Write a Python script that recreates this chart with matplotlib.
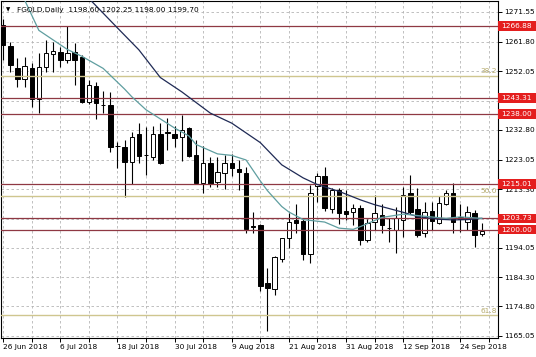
import numpy as np
import matplotlib.pyplot as plt
import matplotlib.transforms as mtransforms
from matplotlib.patches import Rectangle

# daily candles FGOLD, 26 Jun 2018 .. 27 Sep 2018
opens = [1267.30, 1260.50, 1253.05, 1249.45, 1253.05, 1242.85, 1253.40, 1257.75, 1258.50, 1255.80,
         1258.50, 1256.85, 1242.05, 1247.25, 1241.00, 1241.00, 1227.50, 1227.30, 1222.35, 1231.45,
         1224.55, 1224.00, 1231.45, 1231.90, 1231.45, 1230.35, 1233.35, 1224.55, 1215.45, 1222.00,
         1215.50, 1218.55, 1221.80, 1219.85, 1218.55, 1201.05, 1201.55, 1182.60, 1180.40, 1190.25,
         1197.15, 1203.20, 1202.95, 1191.85, 1214.20, 1217.65, 1206.85, 1212.95, 1206.25, 1205.80,
         1206.95, 1196.50, 1202.55, 1204.85, 1200.55, 1199.90, 1203.20, 1212.05, 1206.80, 1198.80,
         1206.25, 1202.30, 1208.45, 1211.95, 1204.05, 1202.60, 1205.40, 1198.60]
highs = [1269.25, 1261.80, 1256.35, 1256.85, 1254.70, 1258.00, 1262.35, 1261.80, 1260.15, 1266.95,
         1261.25, 1257.40, 1249.20, 1248.65, 1245.70, 1245.35, 1228.90, 1229.50, 1232.20, 1235.15,
         1233.85, 1234.10, 1235.15, 1236.60, 1234.10, 1237.70, 1233.85, 1229.50, 1227.50, 1224.00,
         1224.00, 1224.55, 1224.90, 1222.90, 1220.60, 1205.65, 1201.85, 1187.40, 1191.20, 1197.25,
         1205.50, 1208.45, 1203.75, 1214.70, 1218.75, 1220.70, 1213.70, 1213.60, 1213.00, 1208.45,
         1208.10, 1203.50, 1211.40, 1208.45, 1203.85, 1207.45, 1214.05, 1217.95, 1213.70, 1209.20,
         1209.20, 1211.05, 1213.05, 1215.45, 1208.45, 1207.80, 1206.45, 1202.25]
lows = [1255.80, 1251.95, 1247.00, 1246.80, 1240.45, 1238.45, 1251.95, 1251.95, 1253.60, 1254.90,
        1247.55, 1241.55, 1241.30, 1236.30, 1238.45, 1225.65, 1220.20, 1210.65, 1215.00, 1221.80,
        1218.00, 1222.90, 1221.60, 1226.20, 1227.30, 1222.70, 1224.00, 1215.00, 1212.15, 1214.15,
        1214.05, 1213.40, 1217.65, 1212.90, 1198.75, 1198.80, 1179.85, 1166.80, 1178.55, 1189.50,
        1194.00, 1198.80, 1190.15, 1189.15, 1209.20, 1206.15, 1205.50, 1201.70, 1203.20, 1201.55,
        1194.80, 1196.05, 1199.90, 1198.90, 1195.95, 1192.35, 1197.60, 1205.30, 1197.60, 1197.50,
        1199.90, 1201.85, 1208.10, 1199.00, 1199.35, 1199.90, 1194.40, 1198.00]
closes = [1260.70, 1254.15, 1249.45, 1253.80, 1242.85, 1253.60, 1258.20, 1258.85, 1255.80, 1258.20,
          1255.80, 1242.05, 1247.55, 1241.75, 1240.90, 1227.30, 1227.40, 1222.35, 1230.55, 1224.20,
          1224.45, 1231.45, 1221.80, 1231.80, 1230.05, 1232.75, 1224.20, 1215.45, 1221.80, 1215.00,
          1218.80, 1221.80, 1220.20, 1218.85, 1200.15, 1200.95, 1181.35, 1180.75, 1191.00, 1197.15,
          1202.60, 1202.30, 1191.85, 1212.05, 1217.55, 1207.05, 1213.05, 1205.60, 1205.15, 1206.95,
          1196.60, 1202.30, 1205.50, 1201.55, 1200.40, 1203.70, 1211.40, 1205.90, 1198.25, 1205.90,
          1202.95, 1208.85, 1212.15, 1202.60, 1203.35, 1205.70, 1198.40, 1199.70]

# moving averages (bar index, price)
ma_slow_bar = [12, 16, 19, 22, 25, 27, 29, 32, 36, 39, 42, 44, 47, 50, 52, 56, 58, 61, 63, 65, 67]
ma_slow_val = [1276.0, 1266.3, 1259.1, 1250.0, 1245.3, 1241.8, 1238.3, 1235.0, 1228.6, 1221.3, 1217.0,
               1214.8, 1212.6, 1209.8, 1208.2, 1205.7, 1204.3, 1203.4, 1203.2, 1203.3, 1203.7]
ma_fast_bar = [3, 5, 9, 11, 14, 17, 18, 20, 24, 26, 27, 30, 32, 34, 36, 37, 39, 40, 42, 45, 47, 49,
               50, 53, 56, 59, 62, 64, 67]
ma_fast_val = [1275.5, 1265.5, 1259.2, 1257.0, 1253.0, 1246.2, 1243.7, 1239.4, 1233.4, 1230.8, 1228.0,
               1224.9, 1224.4, 1222.9, 1216.0, 1212.8, 1207.6, 1205.8, 1203.3, 1202.5, 1200.5, 1200.1,
               1201.0, 1204.0, 1205.1, 1204.4, 1203.7, 1204.2, 1203.7]

levels = [1266.88, 1243.31, 1238.00, 1215.01, 1203.73, 1200.00]
fib_levels = [1250.50, 1211.15, 1171.80]
fib_names = ['38.2', '50.0', '61.8']

price_ticks = [1271.55, 1261.80, 1252.05, 1242.30, 1232.80, 1223.05, 1213.30, 1203.55,
               1194.05, 1184.30, 1174.80, 1165.05]
# tick labels covered by the price boxes are left blank
price_labels = ['1271.55', '1261.80', '1252.05', '', '1232.80', '1223.05', '1213.30', '',
                '1194.05', '1184.30', '1174.80', '1165.05']
date_labels = ['26 Jun 2018', '6 Jul 2018', '18 Jul 2018', '30 Jul 2018', '9 Aug 2018',
               '21 Aug 2018', '31 Aug 2018', '12 Sep 2018', '24 Sep 2018']

W, H = 536, 357
fig = plt.figure(figsize=(W / 100, H / 100), dpi=100)
fig.patch.set_facecolor('white')
ax = fig.add_axes([1 / W, 1 - 337.5 / H, 496.5 / W, 336.5 / H])

n = len(opens)
x = np.arange(n)
o = np.array(opens); c = np.array(closes)
hi = np.array(highs); lo = np.array(lows)
up = c >= o

fs = 5.3

ax.grid(True, color='#B5B5B5', ls=(0, (3, 3)), lw=0.6, zorder=0)
ax.set_axisbelow(True)

# candles
ax.vlines(x, lo, hi, color='black', lw=0.8, zorder=2)
body = np.abs(c - o)
body = np.where(body < 0.15, 0.15, body)
ax.bar(x, body, bottom=np.minimum(o, c), width=0.62,
       color=np.where(up, 'white', 'black'), edgecolor='black', lw=0.7, zorder=3)

# fib levels
for lv, nm in zip(fib_levels, fib_names):
    ax.axhline(lv, color='#CFC68F', lw=1.0, zorder=4)
    ax.text(69.1, lv + 0.6, nm, color='#B5AA6C', fontsize=fs, ha='right', va='bottom', zorder=5)

# horizontal levels
for lv in levels:
    ax.axhline(lv, color='#8F3843', lw=0.9, zorder=4)

# moving averages
ax.plot(ma_slow_bar, ma_slow_val, color='#1F2A55', lw=0.9, zorder=5)
ax.plot(ma_fast_bar, ma_fast_val, color='#5F9EA0', lw=0.9, zorder=5)

ax.set_xlim(-0.3, 69.2)
ax.set_ylim(1164.55, 1275.15)

# axes ticks
ax.yaxis.tick_right()
ax.set_yticks(price_ticks)
ax.set_yticklabels(price_labels)
ax.tick_params(axis='y', direction='out', length=3, width=0.7, pad=2, labelsize=fs, colors='black')
xt = list(range(0, 69, 4))
ax.set_xticks(xt)
xl = []
for t in xt:
    xl.append(date_labels[t // 8] if t % 8 == 0 else '')
ax.set_xticklabels(xl)
ax.tick_params(axis='x', direction='out', length=3, width=0.7, pad=2, labelsize=fs)
for lab in ax.get_xticklabels():
    lab.set_ha('left')
for sp in ax.spines.values():
    sp.set_color('black')
    sp.set_linewidth(0.8)

# price boxes on the right axis
tr = mtransforms.blended_transform_factory(ax.transAxes, ax.transData)
bw = (W - 497.5) / 496.5
bh = 3.1
for lv in levels:
    ax.add_patch(Rectangle((1.0, lv - bh / 2), bw, bh, transform=tr, facecolor='#E41E1E',
                           edgecolor='none', clip_on=False, zorder=20))
    ax.text(1.0 + 4 / 496.5, lv, '%.2f' % lv, transform=tr, color='white', fontsize=fs,
            ha='left', va='center', clip_on=False, zorder=21)

# header
fig.text(6 / W, 1 - 10 / H, '\u25bc', fontsize=4, va='center', ha='left')
fig.text(17 / W, 1 - 10 / H, 'FGOLD.Daily  1198.60 1202.25 1198.00 1199.70',
         fontsize=fs, va='center', ha='left')

fig.savefig('out.png', dpi=100)
